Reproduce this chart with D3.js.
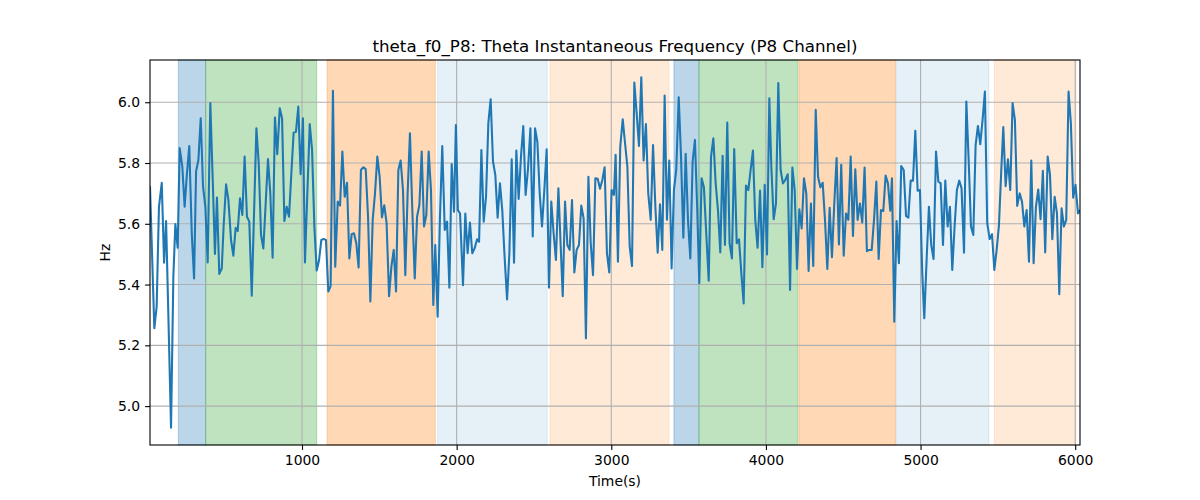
<!DOCTYPE html>
<html><head><meta charset="utf-8">
<script src="https://cdn.jsdelivr.net/npm/d3@7"></script>
<style>
html,body{margin:0;padding:0;background:#fff;}
text{font-family:"DejaVu Sans",sans-serif;fill:#000;}
</style></head>
<body>
<svg id="chart" width="1200" height="500"></svg>
<script>
const titleText = "theta_f0_P8: Theta Instantaneous Frequency (P8 Channel)";
const xLabel = "Time(s)";
const yLabel = "Hz";
const xTicks = [1000, 2000, 3000, 4000, 5000, 6000];
const yTicks = [5.0, 5.2, 5.4, 5.6, 5.8, 6.0];
const xDomain = [17, 6031];
const yDomain = [4.872, 6.139];

// shaded intervals
const spanStart = [200, 377, 1162, 1877, 2604, 3405, 3567, 4214, 4841, 5477];
const spanEnd   = [377, 1095, 1862, 2586, 3373, 3567, 4207, 4837, 5442, 6005];
const spanKind  = ["A", "B", "C", "D", "E", "A", "B", "C", "D", "E"];

const times = [17,45,60,75,93,108,121,137,153,168,181,196,209,226,241,256,271,287,302,315,330,345,360,375,390,407,422,437,450,465,481,493,509,524,541,556,571,584,599,614,629,644,659,675,690,705,720,735,750,765,780,795,810,825,840,856,871,886,901,916,931,946,961,976,991,1006,1019,
1050,1065,1080,1095,1110,1125,1140,1155,1170,1185,1200,1215,1231,1246,1261,1276,1291,1306,1321,1336,1351,1366,1381,1397,1412,1427,1442,1457,1472,1487,1502,1517,1532,1547,1563,1578,1593,1608,1623,1638,1653,1668,1683,1698,1713,1729,1744,1759,1774,1789,1804,1819,1834,1849,1862,1877,1892,1907,1923,1938,1953,1968,1983,1995,
2008,2022,2041,2056,2071,2086,2101,2116,2132,2145,2160,2175,2190,2205,2220,2235,2250,2265,2280,2295,2310,2326,2341,2356,2371,2386,2401,2416,2431,2446,2461,2477,2492,2507,2522,2537,2552,2567,2582,2597,2612,2627,2642,2658,2673,2686,2701,2716,2731,2746,2761,2776,2791,2806,2821,2836,2852,2867,2882,2897,2912,2927,2942,2957,2972,2987,3002,3017,
3028,3043,3058,3074,3089,3104,3119,3134,3149,3164,3179,3194,3209,3224,3239,3255,3270,3285,3300,3315,3330,3345,3360,3375,3390,3405,3420,3436,3451,3466,3481,3496,3511,3526,3541,3556,3569,3584,3599,3614,3630,3645,3660,3675,3690,3705,3720,3735,3750,3765,3780,3795,3811,3826,3841,3856,3871,3886,3901,3916,3931,3946,3962,3977,3992,4007,4022,
4035,4050,4065,4080,4095,4110,4125,4141,4156,4171,4186,4201,4216,4231,4246,4261,4276,4291,4306,4322,4337,4352,4367,4382,4397,4412,4427,4442,4457,4472,4487,4503,4518,4533,4548,4563,4578,4593,4608,4623,4638,4653,4668,4684,4699,4714,4729,4744,4759,4774,4789,4804,4815,4830,4845,4860,4875,4891,4906,4921,4936,4951,4966,4981,4996,5011,5024,
5039,5054,5069,5084,5100,5115,5130,5145,5160,5175,5190,5205,5220,5235,5250,5265,5281,5296,5311,5326,5341,5356,5371,5386,5401,5416,5431,5447,5462,5477,5492,5507,5522,5535,5550,5565,5580,5595,5610,5625,5641,5656,5671,5686,5701,5716,5731,5746,5761,5776,5791,5806,5822,5837,5852,5867,5882,5897,5912,5927,5942,5957,5972,5987,6002,6018,6031];

const hz = [5.722,5.256,5.327,5.656,5.735,5.472,5.609,5.272,4.929,5.426,5.599,5.521,5.849,5.788,5.656,5.766,5.856,5.569,5.420,5.772,5.810,5.947,5.722,5.656,5.473,5.997,5.755,5.501,5.686,5.435,5.453,5.591,5.730,5.678,5.547,5.495,5.587,5.576,5.684,5.629,5.821,5.623,5.607,5.363,5.639,5.914,5.799,5.563,5.519,5.666,5.813,5.700,5.488,5.950,5.829,5.980,5.947,5.609,5.656,5.623,5.766,5.900,5.903,5.986,5.763,5.947,5.473,
5.928,5.843,5.590,5.446,5.480,5.547,5.550,5.547,5.377,5.395,6.038,5.459,5.673,5.660,5.838,5.689,5.735,5.486,5.566,5.569,5.536,5.456,5.777,5.786,5.780,5.623,5.344,5.612,5.700,5.821,5.755,5.621,5.661,5.602,5.362,5.459,5.514,5.377,5.777,5.808,5.711,5.431,5.700,5.898,5.650,5.420,5.623,5.662,5.838,5.591,5.629,5.838,5.711,5.333,5.530,5.294,5.620,5.856,5.580,5.607,5.390,5.797,5.640,5.925,
5.645,5.634,5.398,5.634,5.503,5.604,5.503,5.519,5.549,5.541,5.843,5.607,5.689,5.931,6.010,5.805,5.761,5.620,5.733,5.645,5.492,5.351,5.503,5.812,5.472,5.841,5.682,5.821,5.922,5.695,5.777,5.914,5.558,5.914,5.870,5.700,5.591,5.711,5.845,5.390,5.673,5.569,5.481,5.717,5.525,5.362,5.673,5.530,5.514,5.678,5.440,5.514,5.530,5.660,5.618,5.223,5.755,5.536,5.431,5.750,5.748,5.715,5.744,5.786,5.503,5.440,5.711,5.695,
5.827,5.475,5.854,5.944,5.865,5.788,5.525,5.461,6.065,5.964,5.856,6.082,5.808,5.928,5.700,5.613,5.859,5.656,5.505,5.664,5.514,6.022,5.613,5.808,5.453,5.711,5.777,6.016,5.821,5.554,5.830,5.613,5.486,5.805,5.876,5.645,5.404,5.750,5.720,5.569,5.413,5.821,5.881,5.733,5.645,5.506,5.824,5.530,5.933,5.536,5.486,5.846,5.536,5.549,5.437,5.338,5.726,5.711,5.777,5.841,5.613,5.521,5.709,5.457,5.728,5.499,6.013,
5.788,5.615,5.667,6.063,5.777,5.733,5.744,5.763,5.382,5.785,5.711,5.451,5.648,5.585,5.750,5.700,5.445,5.667,5.461,5.975,5.755,5.720,5.735,5.613,5.451,5.653,5.490,5.667,5.816,5.532,5.794,5.495,5.634,5.613,5.821,5.560,5.779,5.613,5.667,5.604,5.785,5.510,5.514,5.514,5.613,5.739,5.484,5.645,5.642,5.759,5.733,5.643,5.750,5.278,5.609,5.470,5.790,5.777,5.626,5.620,5.742,5.742,5.906,5.709,5.711,5.437,5.289,
5.481,5.656,5.530,5.484,5.838,5.739,5.733,5.530,5.742,5.591,5.656,5.448,5.591,5.711,5.742,5.717,5.505,6.002,5.810,5.591,5.563,5.859,5.922,5.862,5.942,6.035,5.602,5.550,5.566,5.448,5.514,5.596,5.777,5.918,5.724,5.812,5.711,5.997,5.942,5.659,5.700,5.673,5.591,5.645,5.475,5.808,5.470,5.656,5.713,5.615,5.774,5.506,5.821,5.761,5.549,5.689,5.634,5.368,5.651,5.591,5.613,6.035,5.931,5.686,5.728,5.634,5.643];

// styles
const kindStyle = {
  A: {color: "#1f77b4", alpha: 0.3},
  B: {color: "#2ca02c", alpha: 0.3},
  C: {color: "#ff7f0e", alpha: 0.3},
  D: {color: "#1f77b4", alpha: 0.11},
  E: {color: "#ff7f0e", alpha: 0.16}
};

const margin = {left: 150, right: 120, top: 60, bottom: 55};
const W = 1200, H = 500;
const iw = W - margin.left - margin.right, ih = H - margin.top - margin.bottom;

const svg = d3.select("#chart");
const g = svg.append("g").attr("transform", `translate(${margin.left},${margin.top})`);
const x = d3.scaleLinear().domain(xDomain).range([0, iw]);
const y = d3.scaleLinear().domain(yDomain).range([ih, 0]);

svg.append("defs").append("clipPath").attr("id", "clip")
  .append("rect").attr("width", iw).attr("height", ih);

// spans
const spans = spanStart.map((s, i) => ({s, e: spanEnd[i], k: spanKind[i]}));
g.append("g").selectAll("rect").data(spans).join("rect")
  .attr("x", d => x(d.s)).attr("width", d => x(d.e) - x(d.s))
  .attr("y", 0).attr("height", ih)
  .attr("fill", d => kindStyle[d.k].color).attr("fill-opacity", d => kindStyle[d.k].alpha)
  .attr("stroke", d => kindStyle[d.k].color).attr("stroke-opacity", d => kindStyle[d.k].alpha)
  .attr("stroke-width", 1);

// grid
const grid = g.append("g");
grid.selectAll(".gx").data(xTicks).join("line")
  .attr("x1", d => x(d)).attr("x2", d => x(d)).attr("y1", 0).attr("y2", ih)
  .attr("stroke", "#b0b0b0").attr("stroke-width", 1.1);
grid.selectAll(".gy").data(yTicks).join("line")
  .attr("y1", d => y(d)).attr("y2", d => y(d)).attr("x1", 0).attr("x2", iw)
  .attr("stroke", "#b0b0b0").attr("stroke-width", 1.1);

// line
const pts = times.map((t, i) => [t, hz[i]]);
g.append("path").datum(pts)
  .attr("clip-path", "url(#clip)")
  .attr("fill", "none").attr("stroke", "#1f77b4").attr("stroke-width", 2.08)
  .attr("stroke-linejoin", "round").attr("stroke-linecap", "square")
  .attr("d", d3.line().x(d => x(d[0])).y(d => y(d[1])));

// axes
const xAxis = g.append("g").attr("transform", `translate(0,${ih})`)
  .call(d3.axisBottom(x).tickValues(xTicks).tickSize(4.9).tickPadding(5.5).tickFormat(d3.format("d")));
const yAxis = g.append("g")
  .call(d3.axisLeft(y).tickValues(yTicks).tickSize(4.9).tickPadding(5).tickFormat(d3.format(".1f")));
[xAxis, yAxis].forEach(a => {
  a.select(".domain").remove();
  a.selectAll("line").attr("stroke", "#000").attr("stroke-width", 1.1);
  a.selectAll("text").attr("font-size", "13.9px").attr("font-family", "DejaVu Sans").attr("fill", "#000");
});

// frame
g.append("rect").attr("width", iw).attr("height", ih)
  .attr("fill", "none").attr("stroke", "#000").attr("stroke-width", 1.1);

// labels
svg.append("text").attr("x", margin.left + iw / 2).attr("y", 52)
  .attr("text-anchor", "middle").attr("font-size", "16.7px").text(titleText);
svg.append("text").attr("x", margin.left + iw / 2).attr("y", 486)
  .attr("text-anchor", "middle").attr("font-size", "13.9px").text(xLabel);
svg.append("text").attr("transform", `translate(110,${margin.top + ih / 2}) rotate(-90)`)
  .attr("text-anchor", "middle").attr("font-size", "13.9px").text(yLabel);
</script>
</body></html>
